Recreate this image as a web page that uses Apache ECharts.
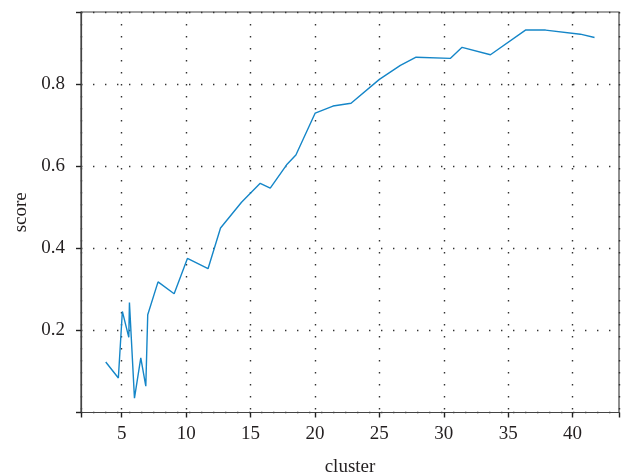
<!DOCTYPE html>
<html>
<head>
<meta charset="utf-8">
<script src="https://cdn.jsdelivr.net/npm/echarts@6/dist/echarts.min.js"></script>
<style>
html,body{margin:0;padding:0;background:#fff;}
#chart{width:621px;height:476px;}
</style>
</head>
<body>
<div id="chart"></div>
<script>
var clusterValues = [3.76, 4.74, 5.05, 5.55, 5.6, 5.99, 6.48, 6.87, 7.02, 7.82, 9.07, 10.1, 11.7, 12.67, 14.3, 15.75, 16.53, 17.8, 18.52, 20.02, 21.4, 22.8, 25.0, 26.63, 27.85, 30.5, 31.42, 33.62, 36.34, 37.9, 40.6, 41.7];
var scoreValues = [0.123, 0.084, 0.246, 0.183, 0.268, 0.035, 0.133, 0.064, 0.238, 0.318, 0.289, 0.375, 0.35, 0.449, 0.512, 0.558, 0.546, 0.603, 0.627, 0.729, 0.746, 0.753, 0.811, 0.845, 0.865, 0.862, 0.889, 0.871, 0.931, 0.931, 0.921, 0.913];
var xTickValues = [5, 10, 15, 20, 25, 30, 35, 40];
var yTickValues = [0.2, 0.4, 0.6, 0.8];

var seriesData = clusterValues.map(function (x, i) { return [x, scoreValues[i]]; });

var font = '"Liberation Serif", "DejaVu Serif", serif';
var textColor = '#231f20';
var chart = echarts.init(document.getElementById('chart'), null, {renderer: 'canvas'});
chart.setOption({
  animation: false,
  backgroundColor: '#fff',
  grid: {
    left: 81, right: 2, top: 12, bottom: 63.5,
    show: true, borderColor: '#444', borderWidth: 1.2,
    containLabel: false, outerBoundsMode: 'none'
  },
  xAxis: {
    type: 'value',
    min: 1.84, max: 43.6,
    splitNumber: 9,
    name: 'cluster',
    nameLocation: 'middle',
    nameGap: 45,
    nameTextStyle: {fontFamily: font, fontSize: 19, color: textColor},
    axisLine: {show: true, lineStyle: {color: '#444', width: 1.2}},
    axisTick: {show: true, inside: false, length: 5, lineStyle: {color: '#222', width: 1.4}},
    axisLabel: {customValues: xTickValues, margin: 12, fontFamily: font, fontSize: 19, color: textColor},
    splitLine: {show: true, lineStyle: {color: '#333', width: 1.4, type: [1.4, 10.6]}}
  },
  yAxis: {
    type: 'value',
    min: 0, max: 0.975,
    interval: 0.2,
    name: 'score',
    nameLocation: 'middle',
    nameGap: 49,
    nameRotate: 90,
    nameTextStyle: {fontFamily: font, fontSize: 19, color: textColor},
    axisLine: {show: true, lineStyle: {color: '#444', width: 1.2}},
    axisTick: {show: true, inside: false, length: 5, lineStyle: {color: '#222', width: 1.4}},
    axisLabel: {customValues: yTickValues, margin: 16, fontFamily: font, fontSize: 19, color: textColor,
      formatter: function (v) { return v.toFixed(1); }},
    splitLine: {show: true, lineStyle: {color: '#333', width: 1.4, type: [1.4, 10.6]}}
  },
  series: [{
    type: 'line',
    data: seriesData,
    showSymbol: false,
    symbol: 'none',
    lineStyle: {color: '#1586c8', width: 1.4},
    clip: true
  }]
});
</script>
</body>
</html>
